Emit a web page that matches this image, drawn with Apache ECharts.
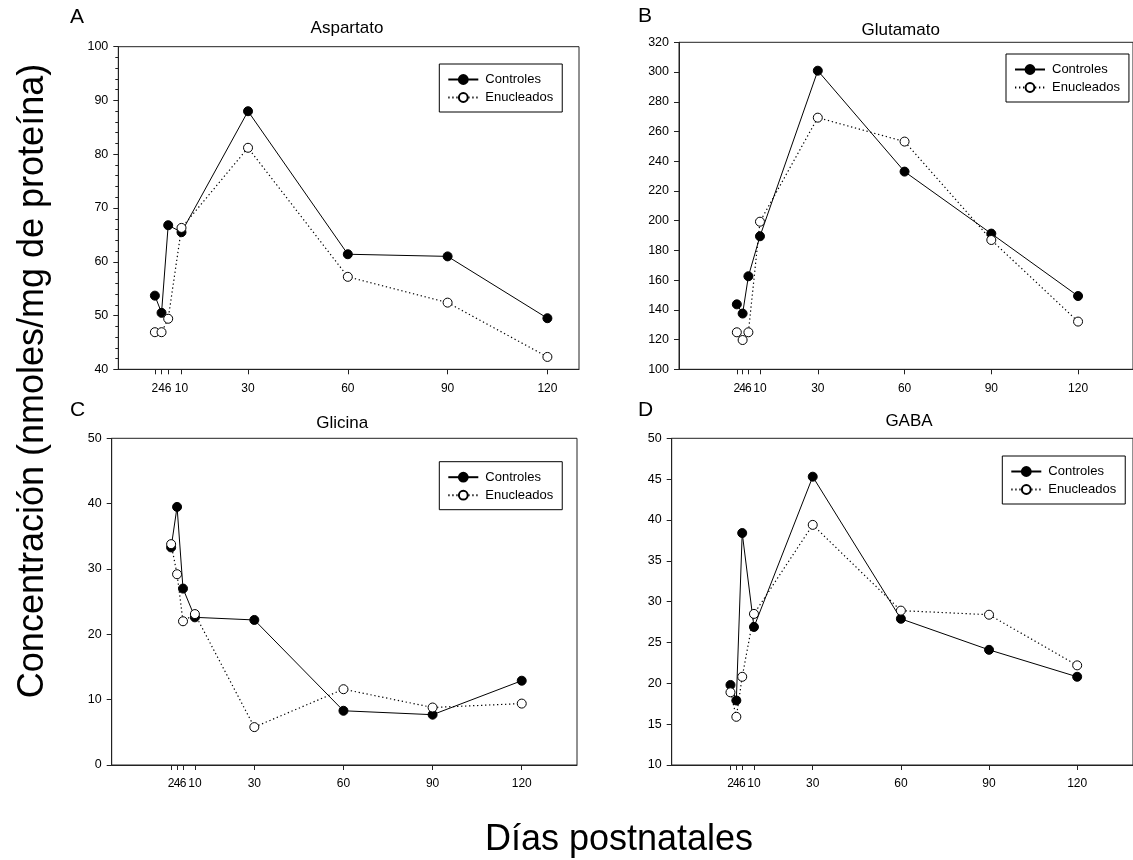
<!DOCTYPE html>
<html>
<head>
<meta charset="utf-8">
<script src="https://cdn.jsdelivr.net/npm/echarts@6/dist/echarts.min.js"></script>
<style>
html,body{margin:0;padding:0;background:#fff;}
#chart{width:1133px;height:860px;}
</style>
</head>
<body>
<div id="chart"></div>
<script>
// ---- Data ----
const days = [2, 4, 6, 10, 30, 60, 90, 120];
const xTickValues = [2, 4, 6, 10, 30, 60, 90, 120];
const xLabelValuesMain = [2, 6, 10, 30, 60, 90, 120];
const xLabelValuesExtra = [4];
const seriesNames = ['Controles', 'Enucleados'];
const panelTitles = ['Aspartato', 'Glutamato', 'Glicina', 'GABA'];
const panelLetters = ['A', 'B', 'C', 'D'];
const yAxisTitle = 'Concentración (nmoles/mg de proteína)';
const xAxisTitle = 'Días postnatales';

const aspartatoControles  = [53.7, 50.5, 66.8, 65.5, 88.0, 61.4, 61.0, 49.5];
const aspartatoEnucleados = [46.9, 46.9, 49.4, 66.3, 81.2, 57.2, 52.4, 42.3];
const glutamatoControles  = [143.7, 137.5, 162.6, 189.5, 300.9, 233.0, 191.3, 149.3];
const glutamatoEnucleados = [124.9, 119.7, 124.9, 199.3, 269.3, 253.2, 187.0, 132.1];
const glicinaControles    = [33.3, 39.5, 27.0, 22.6, 22.2, 8.3, 7.7, 12.9];
const glicinaEnucleados   = [33.8, 29.2, 22.0, 23.1, 5.8, 11.6, 8.8, 9.4];
const gabaControles       = [19.8, 17.9, 38.4, 26.9, 45.3, 27.9, 24.1, 20.8];
const gabaEnucleados      = [18.9, 15.9, 20.8, 28.5, 39.4, 28.9, 28.4, 22.2];

const yRanges = [
  {min: 40, max: 100, interval: 10, minor: true},
  {min: 100, max: 320, interval: 20, minor: false},
  {min: 0, max: 50, interval: 10, minor: false},
  {min: 10, max: 50, interval: 5, minor: false}
];
const xRanges = [
  {min: -9, max: 129.5},
  {min: -18, max: 139},
  {min: -18, max: 138.6},
  {min: -18, max: 139}
];
const panelData = [
  [aspartatoControles, aspartatoEnucleados],
  [glutamatoControles, glutamatoEnucleados],
  [glicinaControles, glicinaEnucleados],
  [gabaControles, gabaEnucleados]
];

// ---- Layout ----
const grids = [
  {left: 118.3, top: 46.7, width: 460.7, height: 322.6},
  {left: 679, top: 42.3, width: 458, height: 327},
  {left: 111.7, top: 438.3, width: 465.3, height: 326.7},
  {left: 671.7, top: 438.3, width: 465.5, height: 326.7}
];
const legendPos = [
  {left: 439.3, top: 64},
  {left: 1006, top: 54},
  {left: 439.3, top: 461.7},
  {left: 1002.3, top: 456}
];
const titlePos = [[347, 28], [900.7, 30], [342.3, 423.3], [909, 421.7]];
const letterPos = [[70, 17], [638, 16], [70, 410], [638, 410]];

const FONT = 'Liberation Sans, Arial, sans-serif';

const mainX = grids.map((g, i) => ({
  type: 'value', gridIndex: i, min: xRanges[i].min, max: xRanges[i].max,
  axisLine: {show: true, onZero: false, lineStyle: {color: '#222', width: 1}},
  axisTick: {show: true, inside: false, length: 5, customValues: xTickValues, lineStyle: {color: '#222'}},
  axisLabel: {show: true, margin: 13, customValues: xLabelValuesMain, interval: 0, showMinLabel: true, showMaxLabel: true,
    color: '#000', fontFamily: FONT, fontSize: 12, hideOverlap: false},
  splitLine: {show: false}
}));
// second axis per panel, same scale, only carries the crowded "4" label
const extraX = grids.map((g, i) => ({
  type: 'value', gridIndex: i, position: 'bottom', min: xRanges[i].min, max: xRanges[i].max,
  axisLine: {show: false, onZero: false},
  axisTick: {show: false},
  axisLabel: {show: true, margin: 13, customValues: xLabelValuesExtra, showMinLabel: true, showMaxLabel: true,
    color: '#000', fontFamily: FONT, fontSize: 12, hideOverlap: false},
  splitLine: {show: false}
}));

const option = {
  backgroundColor: '#fff',
  animation: false,
  grid: grids.map(g => Object.assign({show: true, borderColor: '#222', borderWidth: 1, containLabel: false}, g)),
  xAxis: mainX.concat(extraX),
  yAxis: grids.map((g, i) => ({
    type: 'value', gridIndex: i, min: yRanges[i].min, max: yRanges[i].max, interval: yRanges[i].interval,
    axisLine: {show: true, onZero: false, lineStyle: {color: '#222', width: 1}},
    axisTick: {show: true, inside: false, length: 5, lineStyle: {color: '#222'}},
    minorTick: {show: yRanges[i].minor, splitNumber: 5, length: 3, lineStyle: {color: '#222'}},
    axisLabel: {show: true, margin: 10, color: '#000', fontFamily: FONT, fontSize: 12.5},
    splitLine: {show: false}
  })),
  legend: legendPos.map((p, i) => ({
    show: true, orient: 'vertical', left: p.left, top: p.top,
    data: seriesNames,
    borderColor: '#000', borderWidth: 1, borderRadius: 0,
    padding: [9, 9, 8, 8],
    itemWidth: 30, itemHeight: 11, itemGap: 5,
    selectedMode: false,
    textStyle: {color: '#000', fontFamily: FONT, fontSize: 13, padding: [0, 0, 0, 2]}
  })),
  series: [],
  graphic: []
};

panelData.forEach((pair, i) => {
  option.series.push({
    name: seriesNames[0], type: 'line', xAxisIndex: i, yAxisIndex: i,
    data: days.map((d, k) => [d, pair[0][k]]),
    symbol: 'circle', symbolSize: 9,
    lineStyle: {color: '#000', width: 1, type: 'solid'},
    itemStyle: {color: '#000', borderColor: '#000', borderWidth: 1},
    z: 3
  });
  option.series.push({
    name: seriesNames[1], type: 'line', xAxisIndex: i, yAxisIndex: i,
    data: days.map((d, k) => [d, pair[1][k]]),
    symbol: 'circle', symbolSize: 9,
    lineStyle: {color: '#000', width: 1.2, type: [1.3, 2.7]},
    itemStyle: {color: '#fff', borderColor: '#000', borderWidth: 1},
    z: 4
  });
});

panelTitles.forEach((t, i) => {
  option.graphic.push({type: 'text', x: titlePos[i][0], y: titlePos[i][1],
    style: {text: t, fill: '#000', font: '17px ' + FONT, textAlign: 'center', textVerticalAlign: 'middle'}});
  option.graphic.push({type: 'text', x: letterPos[i][0], y: letterPos[i][1],
    style: {text: panelLetters[i], fill: '#000', font: '21px ' + FONT, textAlign: 'left', textVerticalAlign: 'middle'}});
});
option.graphic.push({type: 'text', x: 33, y: 381, rotation: Math.PI / 2,
  style: {text: yAxisTitle, fill: '#000', font: '36px ' + FONT, textAlign: 'center', textVerticalAlign: 'middle'}});
option.graphic.push({type: 'text', x: 619, y: 840,
  style: {text: xAxisTitle, fill: '#000', font: '36px ' + FONT, textAlign: 'center', textVerticalAlign: 'middle'}});

const chart = echarts.init(document.getElementById('chart'), null, {renderer: 'canvas'});
chart.setOption(option);
</script>
</body>
</html>
